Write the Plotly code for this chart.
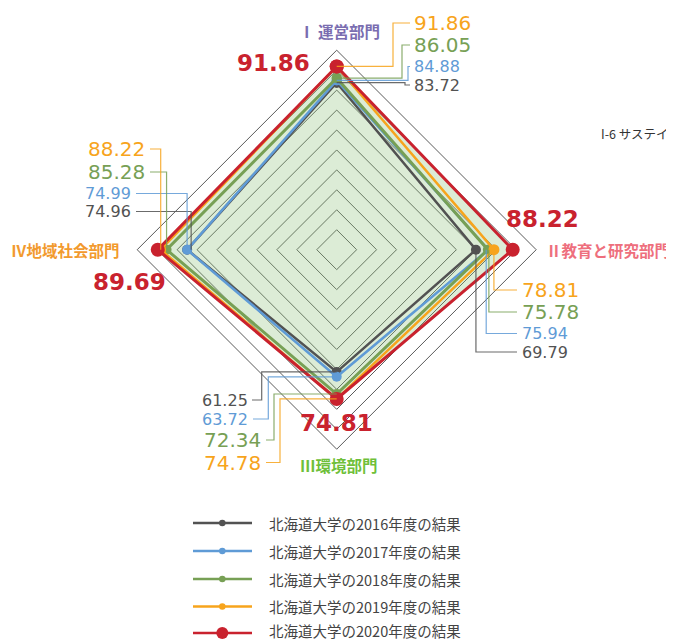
import plotly.graph_objects as go

# ---------------- data ----------------
categories = ["Ⅰ 運営部門", "Ⅱ教育と研究部門", "Ⅲ環境部門", "Ⅳ地域社会部門"]
years = ["2016", "2017", "2018", "2019", "2020"]
v2016 = [83.72, 69.79, 61.25, 74.96]
v2017 = [84.88, 75.94, 63.72, 74.99]
v2018 = [86.05, 75.78, 72.34, 85.28]
v2019 = [91.86, 78.81, 74.78, 88.22]
v2020 = [91.86, 88.22, 74.81, 89.69]
series = [v2016, v2017, v2018, v2019, v2020]
legend_names = [f"北海道大学の{y}年度の結果" for y in years]
header_text = "I-6 サステイ"

# ---------------- style ----------------
W, H = 674, 641
OFF = 8                                   # page body margin in px
CX, CY, R = 336.7, 249.7, 199.5          # centre and outer radius in page px
S = R / 100.0
colors = ["#525252", "#5f9bd6", "#77a055", "#f7a41c", "#c9222e"]
line_w = [2.5, 2.5, 3, 2.5, 3]
mk_size = [10, 10, 10, 11, 14]
cat_colors = ["#7a6db0", "#ee6f7d", "#6fbf3a", "#f29a2e"]
NUM_FONT = "DejaVu Sans, Liberation Sans, sans-serif"
JP_FONT = "Noto Sans CJK JP, sans-serif"


def px(x, y):
    return (x - OFF) / W, 1 - (y - OFF) / H


def point(axis, v):
    if axis == 0:
        return CX, CY - v * S
    if axis == 1:
        return CX + v * S, CY
    if axis == 2:
        return CX, CY + v * S
    return CX - v * S, CY


fig = go.Figure()

# fill under the 2020 polygon
fig.add_trace(go.Scatterpolar(
    r=v2020 + [v2020[0]], theta=categories + [categories[0]],
    mode="lines", fill="toself", fillcolor="rgba(138,192,118,0.30)",
    line=dict(width=0, color="rgba(0,0,0,0)"), hoverinfo="skip", showlegend=False))

for i, vals in enumerate(series):
    fig.add_trace(go.Scatterpolar(
        r=vals + [vals[0]], theta=categories + [categories[0]],
        mode="lines+markers", name=legend_names[i],
        line=dict(color=colors[i], width=line_w[i]),
        marker=dict(color=colors[i], size=mk_size[i]),
        showlegend=False))

dx0, dy1 = px(CX - R, CY - R)
dx1, dy0 = px(CX + R, CY + R)

fig.update_layout(
    width=W, height=H, margin=dict(l=0, r=0, t=0, b=0),
    paper_bgcolor="white", plot_bgcolor="white", showlegend=False,
    polar=dict(
        domain=dict(x=[dx0, dx1], y=[dy0, dy1]),
        bgcolor="rgba(0,0,0,0)", gridshape="linear",
        radialaxis=dict(range=[0, 100], dtick=10, showgrid=True, gridcolor="#5a5a5a",
                        gridwidth=1, showticklabels=False, showline=False, ticks=""),
        angularaxis=dict(type="category", rotation=90, direction="clockwise",
                         showgrid=False, showline=True, linecolor="#5a5a5a", linewidth=1,
                         showticklabels=False, ticks=""),
    ),
)

shapes = []
annotations = []

# ---------- label layout (positions of value labels, page px) ----------
top_lab = {0: (413, 85, 405), 1: (413, 66.5, 408), 2: (413, 45, 402), 3: (413, 23, 393)}
right_lab = {0: (521, 352, 0), 1: (521, 333.5, -2), 2: (521, 312, 1), 3: (521, 290, 0)}
bot_lab = {0: (248.5, 400, 261.7, 252), 1: (248.5, 419, 268.3, 253),
           2: (262, 440, 274, 266), 3: (262, 462.5, 280, 266)}
left_lab = {0: (132, 211.5, 4, 136), 1: (132, 193.5, 0, 136),
            2: (146, 172, 0, 150), 3: (146, 149, 0, 150)}
lab_size = [16, 16, 20, 20]


def path_px(pts):
    d = ""
    for k, (x, y) in enumerate(pts):
        xp, yp = px(x, y)
        d += ("M" if k == 0 else "L") + f"{xp:.5f},{yp:.5f} "
    return d.strip()


def add_line(pts, color, width=1.2, opacity=0.85):
    shapes.append(dict(type="path", path=path_px(pts), xref="paper", yref="paper",
                       line=dict(color=color, width=width), opacity=opacity))


def add_text(text, x, y, color, size, anchor, bold=False, font=NUM_FONT):
    xp, yp = px(x, y)
    annotations.append(dict(text=text, x=xp, y=yp, xref="paper", yref="paper",
                            xanchor=anchor, yanchor="middle", showarrow=False,
                            borderpad=0,
                            font=dict(family=font, size=size, color=color,
                                      weight="bold" if bold else "normal")))


for i in range(4):  # 2016..2019
    col = colors[i]
    # top
    v = series[i][0]
    x, y = point(0, v)
    lx, ly, ex = top_lab[i]
    add_line([(x, y), (ex, y), (ex, ly), (lx - 3, ly)], col)
    add_text(f"{v:.2f}", lx, ly, col, lab_size[i], "left")
    # right
    v = series[i][1]
    x, y = point(1, v)
    lx, ly, off = right_lab[i]
    add_line([(x + off, y), (x + off, ly), (lx - 4, ly)], col)
    add_text(f"{v:.2f}", lx, ly, col, lab_size[i], "left")
    # bottom
    v = series[i][2]
    x, y = point(2, v)
    lx, ly, ex, sx = bot_lab[i]
    add_line([(x, y), (ex, y), (ex, ly), (sx, ly)], col)
    add_text(f"{v:.2f}", lx, ly, col, lab_size[i], "right")
    # left
    v = series[i][3]
    x, y = point(3, v)
    lx, ly, off, sx = left_lab[i]
    add_line([(x + off, y), (x + off, ly), (sx, ly)], col)
    add_text(f"{v:.2f}", lx, ly, col, lab_size[i], "right")

# 2020 bold red labels
red_pos = [(311, 63.5, "right"), (505, 219, "left"), (336.7, 423, "center"), (167, 282, "right")]
for a in range(4):
    x, y, anc = red_pos[a]
    add_text(f"{v2020[a]:.2f}", x, y, colors[4], 23, anc, bold=True)

# category labels
cat_pos = [(339, 31.5, "center"), (545, 250, "left"), (339, 465, "center"), (10, 250, "left")]
for a in range(4):
    x, y, anc = cat_pos[a]
    add_text(categories[a], x, y, cat_colors[a], 15.5, anc, bold=True, font=JP_FONT)

# stray header text
add_text(header_text, 600, 133, "#333333", 12.5, "left", font=JP_FONT)

# custom legend
leg_y = [523, 551, 579, 606.5, 633]
leg_text_y = [523, 551, 579, 606.5, 630.5]
leg_mk = [6.5, 6.5, 6.5, 6.5, 12]
for i in range(5):
    y = leg_y[i]
    add_line([(193, y), (252, y)], colors[i], width=2.5, opacity=1)
    r = leg_mk[i] / 2
    x0, y0 = px(222.3 - r, y + r)
    x1, y1 = px(222.3 + r, y - r)
    shapes.append(dict(type="circle", xref="paper", yref="paper", x0=x0, y0=y0, x1=x1, y1=y1,
                       fillcolor=colors[i], line=dict(color=colors[i], width=0)))
    add_text(legend_names[i], 268, leg_text_y[i], "#444444", 14.5, "left", font=JP_FONT)

fig.update_layout(shapes=shapes, annotations=annotations)
fig.write_html("out.html")
